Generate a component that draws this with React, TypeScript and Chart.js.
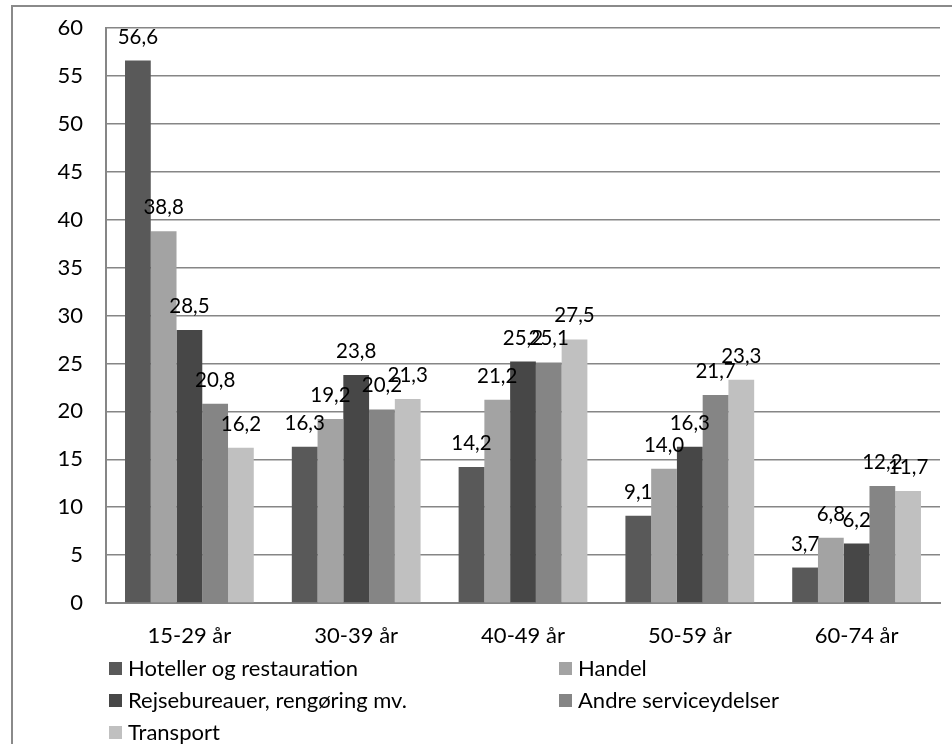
import React, { useEffect, useRef } from "react";
import { Chart, registerables } from "chart.js";

Chart.register(...registerables);

const categories = ["15-29 år", "30-39 år", "40-49 år", "50-59 år", "60-74 år"];
const seriesNames = [
  "Hoteller og restauration",
  "Handel",
  "Rejsebureauer, rengøring mv.",
  "Andre serviceydelser",
  "Transport",
];
const hoteller = [56.6, 16.3, 14.2, 9.1, 3.7];
const handel = [38.8, 19.2, 21.2, 14.0, 6.8];
const rejse = [28.5, 23.8, 25.2, 16.3, 6.2];
const andre = [20.8, 20.2, 25.1, 21.7, 12.2];
const transport = [16.2, 21.3, 27.5, 23.3, 11.7];
const seriesColors = ["#595959", "#a3a3a3", "#474747", "#858585", "#c0c0c0"];
const yTicksMax = 60;
const yTicksStep = 5;

const FONT = "Lato, 'Open Sans', sans-serif";
const FS = 22;
const LABEL_FS = 20.5;

const fmt = (v: number) => v.toFixed(1).replace(".", ",");

const framePlugin = {
  id: "frame",
  beforeDraw(chart: any) {
    const ctx = chart.ctx;
    ctx.save();
    ctx.fillStyle = "#ffffff";
    ctx.fillRect(0, 0, chart.width, chart.height);
    ctx.strokeStyle = "#8a8a8a";
    ctx.lineWidth = 2;
    ctx.beginPath();
    ctx.moveTo(12, chart.height + 2);
    ctx.lineTo(12, 6);
    ctx.lineTo(chart.width + 2, 6);
    ctx.stroke();
    ctx.restore();
  },
};

const labelsPlugin = {
  id: "valueLabels",
  afterDatasetsDraw(chart: any) {
    const ctx = chart.ctx;
    ctx.save();
    ctx.font = `${LABEL_FS}px ${FONT}`;
    ctx.fillStyle = "#000000";
    ctx.textAlign = "center";
    ctx.textBaseline = "alphabetic";
    chart.data.datasets.forEach((ds: any, i: number) => {
      const meta = chart.getDatasetMeta(i);
      meta.data.forEach((el: any, j: number) => {
        ctx.fillText(fmt(ds.data[j]), el.x, el.y - 17);
      });
    });
    ctx.restore();
  },
};

const legendPlugin = {
  id: "gridLegend",
  afterDraw(chart: any) {
    const ctx = chart.ctx;
    ctx.save();
    ctx.font = `${FS}px ${FONT}`;
    ctx.textAlign = "left";
    ctx.textBaseline = "middle";
    const colX = [109, 559];
    const rowY = [662, 694, 726];
    chart.data.datasets.forEach((ds: any, i: number) => {
      const col = i % 2;
      const row = Math.floor(i / 2);
      const x = colX[col];
      const y = rowY[row];
      ctx.fillStyle = ds.backgroundColor;
      ctx.fillRect(x, y, 13, 13);
      ctx.fillStyle = "#000000";
      ctx.fillText(ds.label, x + 19, y + 7);
    });
    ctx.restore();
  },
};

export default function App() {
  const ref = useRef<HTMLCanvasElement | null>(null);

  useEffect(() => {
    if (!ref.current) return;
    const allSeries = [hoteller, handel, rejse, andre, transport];
    const chart = new Chart(ref.current, {
      type: "bar",
      data: {
        labels: categories,
        datasets: allSeries.map((d, i) => ({
          label: seriesNames[i],
          data: d,
          backgroundColor: seriesColors[i],
          borderWidth: 0,
          categoryPercentage: 0.772,
          barPercentage: 1,
        })),
      },
      options: {
        animation: false,
        responsive: false,
        devicePixelRatio: 1,
        layout: { padding: { top: 28, right: 12, left: 0, bottom: 0 } },
        plugins: {
          legend: { display: false },
          tooltip: { enabled: false },
        },
        scales: {
          x: {
            grid: { display: false, drawTicks: false },
            border: { display: true, color: "#868686", width: 2 },
            ticks: {
              color: "#000000",
              font: { family: FONT, size: FS },
              padding: 20,
            },
            afterFit(scale: any) {
              scale.height = 141;
              scale.paddingLeft = 0;
              scale.paddingRight = 0;
            },
          },
          y: {
            min: 0,
            max: yTicksMax,
            ticks: {
              stepSize: yTicksStep,
              color: "#000000",
              font: { family: FONT, size: FS },
              padding: 23,
            },
            grid: { color: "#868686", lineWidth: 1.5, drawTicks: false },
            border: { display: true, color: "#868686", width: 2 },
            afterFit(scale: any) {
              scale.width = 106;
              scale.paddingTop = 0;
              scale.paddingBottom = 0;
            },
          },
        },
      },
      plugins: [framePlugin, labelsPlugin, legendPlugin],
    });
    return () => chart.destroy();
  }, []);

  return (
    <div style={{ position: "absolute", left: 0, top: 0, width: 952, height: 744 }}>
      <canvas ref={ref} width={952} height={744} style={{ width: 952, height: 744, display: "block" }} />
    </div>
  );
}
